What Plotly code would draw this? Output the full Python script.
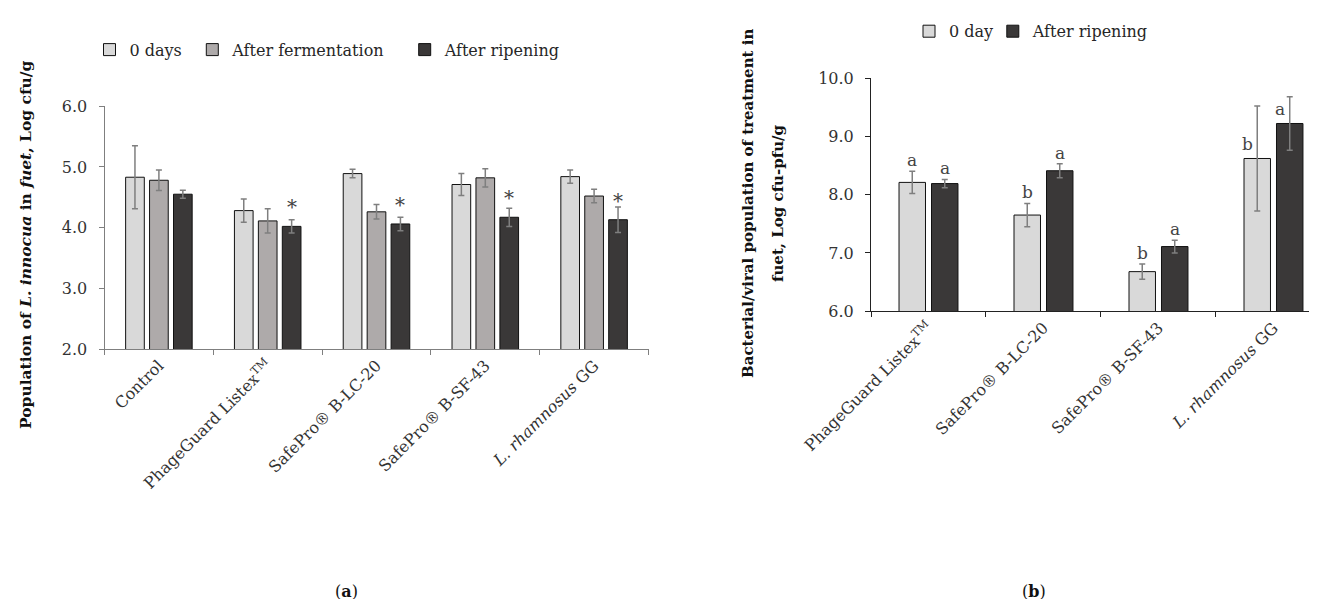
import plotly.graph_objects as go

# ---------------- data ----------------
cats_a = ["Control", "PhageGuard Listex<sup>TM</sup>", "SafePro® B-LC-20",
          "SafePro® B-SF-43", "<i>L. rhamnosus</i> GG"]
series_a = ["0 days", "After fermentation", "After ripening"]
a_day0 = [4.83, 4.28, 4.89, 4.71, 4.84]
a_day0_err = [0.52, 0.19, 0.07, 0.18, 0.11]
a_ferm = [4.78, 4.11, 4.26, 4.82, 4.52]
a_ferm_err = [0.17, 0.20, 0.12, 0.15, 0.11]
a_ripe = [4.55, 4.02, 4.06, 4.17, 4.13]
a_ripe_err = [0.065, 0.11, 0.11, 0.15, 0.21]
a_ripe_mark = ["", "*", "*", "*", "*"]

cats_b = ["PhageGuard Listex<sup>TM</sup>", "SafePro® B-LC-20",
          "SafePro® B-SF-43", "<i>L. rhamnosus</i> GG"]
series_b = ["0 day", "After ripening"]
b_day0 = [8.21, 7.65, 6.68, 8.62]
b_day0_err = [0.19, 0.20, 0.13, 0.90]
b_ripe = [8.19, 8.41, 7.11, 9.22]
b_ripe_err = [0.07, 0.12, 0.11, 0.46]
b_day0_letters = ["a", "b", "b", "b"]
b_ripe_letters = ["a", "a", "a", "a"]
b_letters_beside = [False, False, False, True]

# ---------------- style ----------------
W, H = 1317, 599
FONT = "DejaVu Serif"
TXT = "#333333"
C_LIGHT, C_MID, C_DARK = "#d9d9d9", "#aeaaaa", "#3a3838"
ERRC = "#7f7f7f"

def px_x(p):
    return p / W

def px_y(p):
    return 1 - p / H

fig = go.Figure()

# ---- panel (a) ----
a_vals = [(a_day0, a_day0_err, C_LIGHT), (a_ferm, a_ferm_err, C_MID), (a_ripe, a_ripe_err, C_DARK)]
a_legend_px = [101.5, 204.3, 416.7]
for i, (name, (vals, errs, col)) in enumerate(zip(series_a, a_vals)):
    lg = "legend" if i == 0 else f"legend{i+1}"
    fig.add_trace(go.Bar(
        x=cats_a, y=vals, name=name, marker=dict(color=col, line=dict(color="#111", width=1)),
        error_y=dict(type="data", array=errs, color=ERRC, thickness=1.5, width=3),
        xaxis="x", yaxis="y", legend=lg, showlegend=True))

# ---- panel (b) ----
b_vals = [(b_day0, b_day0_err, C_LIGHT), (b_ripe, b_ripe_err, C_DARK)]
b_legend_px = [921, 1004.8]
for i, (name, (vals, errs, col)) in enumerate(zip(series_b, b_vals)):
    lg = f"legend{i+4}"
    fig.add_trace(go.Bar(
        x=cats_b, y=vals, name=name, marker=dict(color=col, line=dict(color="#111", width=1)),
        error_y=dict(type="data", array=errs, color=ERRC, thickness=1.5, width=3),
        xaxis="x2", yaxis="y2", legend=lg, showlegend=True))

# bar group geometry (category units)
A_GAP, B_GAP = 0.34, 0.435
a_slot = (1 - A_GAP) / 3
b_slot = (1 - B_GAP) / 2

axis_common = dict(showgrid=False, zeroline=False, showline=True, ticks="outside",
                   ticklen=5, automargin=False,
                   tickfont=dict(family=FONT, size=16, color=TXT))

fig.update_layout(
    template="none",
    width=W, height=H, margin=dict(l=0, r=0, t=0, b=0, autoexpand=False),
    paper_bgcolor="white", plot_bgcolor="white", showlegend=True,
    barmode="group", bargap=A_GAP, bargroupgap=0.22,
    font=dict(family=FONT, size=16, color=TXT),
    xaxis=dict(domain=[px_x(96.5), px_x(640.5)], anchor="y", type="category",
               range=[-0.5, 4.5], tickson="boundaries", tickangle=-45,
               linecolor="#7f7f7f", tickcolor="#7f7f7f", **axis_common),
    yaxis=dict(domain=[px_y(341), px_y(98.2)], anchor="x", range=[2, 6], dtick=1,
               tickformat=".1f", linecolor="#7f7f7f", tickcolor="#7f7f7f",
               ticklabelstandoff=8, **axis_common),
    xaxis2=dict(domain=[px_x(863), 1.0], anchor="y2", type="category",
                range=[-0.5, 3.448], tickson="boundaries", tickangle=-45,
                linecolor="#222", tickcolor="#222", **axis_common),
    yaxis2=dict(domain=[px_y(303.3), px_y(70)], anchor="x2", range=[6, 10], dtick=1,
                tickformat=".1f", linecolor="#222", tickcolor="#222",
                ticklabelstandoff=8, **axis_common),
)

# panel (b) has a wider gap between groups -> explicit bar width/offset
b_width = b_slot * (1 - 0.185)
for tr in fig.data:
    if tr.xaxis == "x2":
        tr.width = b_width
        idx = series_b.index(tr.name)
        tr.offset = (idx - 0.5) * b_slot - b_width / 2

# legends (one per entry so each sits where the reference puts it)
leg_common = dict(orientation="h", bgcolor="rgba(0,0,0,0)", borderwidth=0,
                  font=dict(family=FONT, size=16, color="#262626"),
                  xanchor="left", yanchor="middle", itemwidth=30, visible=True)
LSHIFT = 20
fig.update_layout(
    legend=dict(x=px_x(a_legend_px[0] - LSHIFT), y=px_y(41.7), **leg_common),
    legend2=dict(x=px_x(a_legend_px[1] - LSHIFT), y=px_y(41.7), **leg_common),
    legend3=dict(x=px_x(a_legend_px[2] - LSHIFT), y=px_y(41.7), **leg_common),
    legend4=dict(x=px_x(b_legend_px[0] - LSHIFT), y=px_y(23.3), **leg_common),
    legend5=dict(x=px_x(b_legend_px[1] - LSHIFT), y=px_y(23.3), **leg_common),
)

ann = []
# asterisks above "After ripening" bars in (a)
for k, m in enumerate(a_ripe_mark):
    if m:
        ann.append(dict(x=k + a_slot, y=a_ripe[k], xref="x", yref="y", text=m,
                        showarrow=False, yanchor="bottom", yshift=5,
                        font=dict(family=FONT, size=20, color="#444")))
# letters in (b)
for k in range(len(cats_b)):
    for j, (vals, errs, lets) in enumerate([(b_day0, b_day0_err, b_day0_letters),
                                             (b_ripe, b_ripe_err, b_ripe_letters)]):
        xc = k + (j - 0.5) * b_slot
        if b_letters_beside[k]:
            ann.append(dict(x=xc, y=vals[k] + 0.25, xref="x2", yref="y2", text=lets[k],
                            showarrow=False, yanchor="middle", xshift=-10,
                            font=dict(family=FONT, size=17, color="#444")))
        else:
            ann.append(dict(x=xc, y=vals[k] + errs[k] + 0.19, xref="x2", yref="y2",
                            text=lets[k], showarrow=False, yanchor="middle",
                            font=dict(family=FONT, size=17, color="#444")))

# axis titles
ann.append(dict(x=px_x(18), y=px_y(237), xref="paper", yref="paper", textangle=-90,
                xanchor="center", yanchor="middle",
                text="<b>Population of <i>L. innocua</i> in <i>fuet</i>, Log cfu/g</b>",
                showarrow=False, font=dict(family=FONT, size=15.5, color="#111")))
ann.append(dict(x=px_x(740), y=px_y(195), xref="paper", yref="paper", textangle=-90,
                xanchor="center", yanchor="middle",
                text="<b>Bacterial/viral population of treatment in</b>",
                showarrow=False, font=dict(family=FONT, size=15, color="#111")))
ann.append(dict(x=px_x(770), y=px_y(195), xref="paper", yref="paper", textangle=-90,
                xanchor="center", yanchor="middle",
                text="<b>fuet, Log cfu-pfu/g</b>",
                showarrow=False, font=dict(family=FONT, size=15, color="#111")))
# panel labels
ann.append(dict(x=px_x(338), y=px_y(583), xref="paper", yref="paper", text="(<b>a</b>)",
                xanchor="center", yanchor="middle",
                showarrow=False, font=dict(family=FONT, size=16, color="#111")))
ann.append(dict(x=px_x(1026), y=px_y(583), xref="paper", yref="paper", text="(<b>b</b>)",
                xanchor="center", yanchor="middle",
                showarrow=False, font=dict(family=FONT, size=16, color="#111")))
fig.update_layout(annotations=ann)

fig.write_html("out.html")
